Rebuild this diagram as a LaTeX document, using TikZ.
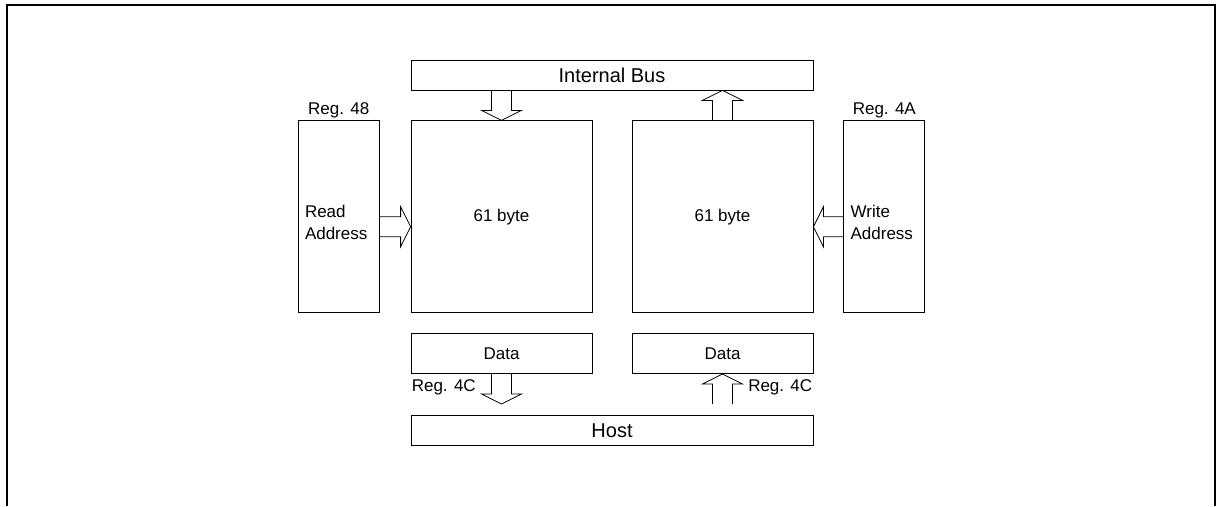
\documentclass[tikz,border=0pt]{standalone}
\usepackage{fontspec}
\setmainfont{Liberation Sans}
\usetikzlibrary{positioning,calc}

% hollow block arrow from #1 to #2
\newcommand{\fatarrow}[2]{%
  \coordinate (h) at ($(#2)!10pt!(#1)$);
  \draw[fat] ($(#1)!10pt!90:(#2)$) -- ($(h)!10pt!90:(#2)$) -- ($(h)!20pt!90:(#2)$) -- (#2)
    -- ($(h)!20pt!-90:(#2)$) -- ($(h)!10pt!-90:(#2)$) -- ($(#1)!10pt!-90:(#2)$);}

\begin{document}
\begin{tikzpicture}[
    x=1pt, y=-1pt,
    blk/.style={rectangle, draw, line width=0.8pt, inner sep=0pt, font=\fontsize{17}{22}\selectfont},
    busblk/.style={blk, minimum width=402pt, minimum height=30pt, font=\fontsize{20}{24}\selectfont},
    memblk/.style={blk, minimum width=181pt, minimum height=192pt},
    regblk/.style={blk, minimum width=81pt, minimum height=192pt},
    datablk/.style={blk, minimum width=181pt, minimum height=40pt},
    lbl/.style={inner sep=1pt, font=\fontsize{17}{22}\selectfont},
    fat/.style={line width=0.8pt}
]
    \useasboundingbox (0,0) rectangle (1217,506);
    \draw[line width=2pt] (7,506) -- (7,5) -- (1215,5) -- (1215,506);

    % Buses
    \node[busblk] (bus) at (612,75) {Internal Bus};

    % Memories
    \node[memblk, below right=30pt and 0pt of bus.south west] (memR) {61 byte};
    \node[memblk, below left=30pt and 0pt of bus.south east] (memW) {61 byte};

    % Address registers
    \node[regblk, left=31pt of memR] (regR) {};
    \node[regblk, right=30pt of memW] (regW) {};
    \node[lbl, above=1pt of regR] (r48) {Reg. 48};
    \node[lbl, above=1pt of regW] (r4A) {Reg. 4A};
    \node[lbl, align=left, anchor=west] (rdtxt) at ([xshift=6pt,yshift=-6pt]regR.west) {Read\\Address};
    \node[lbl, align=left, anchor=west] (wrtxt) at ([xshift=6pt,yshift=-6pt]regW.west) {Write\\Address};

    % Data registers
    \node[datablk, below=20pt of memR] (dataR) {Data};
    \node[datablk, below=20pt of memW] (dataW) {Data};
    \node[lbl, below right=4pt and 0pt of dataR.south west] (r4CR) {Reg. 4C};
    \node[lbl, below left=4pt and 0pt of dataW.south east] (r4CW) {Reg. 4C};

    % Host
    \node[busblk, below right=41pt and 0pt of dataR.south west] (host) {Host};

    % Arrows
    \coordinate (busR) at (bus.south -| memR.north);
    \coordinate (busW) at (bus.south -| memW.north);
    \coordinate (rdA) at ([yshift=-10pt]regR.east);
    \coordinate (rdB) at ([yshift=-10pt]memR.west);
    \coordinate (wrA) at ([yshift=-10pt]regW.west);
    \coordinate (wrB) at ([yshift=-10pt]memW.east);
    \coordinate (dnR) at ([yshift=-30pt]dataR.south);
    \coordinate (upW) at ([yshift=-30pt]dataW.south);
    \fatarrow{busR}{memR.north}
    \fatarrow{memW.north}{busW}
    \fatarrow{rdA}{rdB}
    \fatarrow{wrA}{wrB}
    \fatarrow{dataR.south}{dnR}
    \fatarrow{upW}{dataW.south}
\end{tikzpicture}
\end{document}
